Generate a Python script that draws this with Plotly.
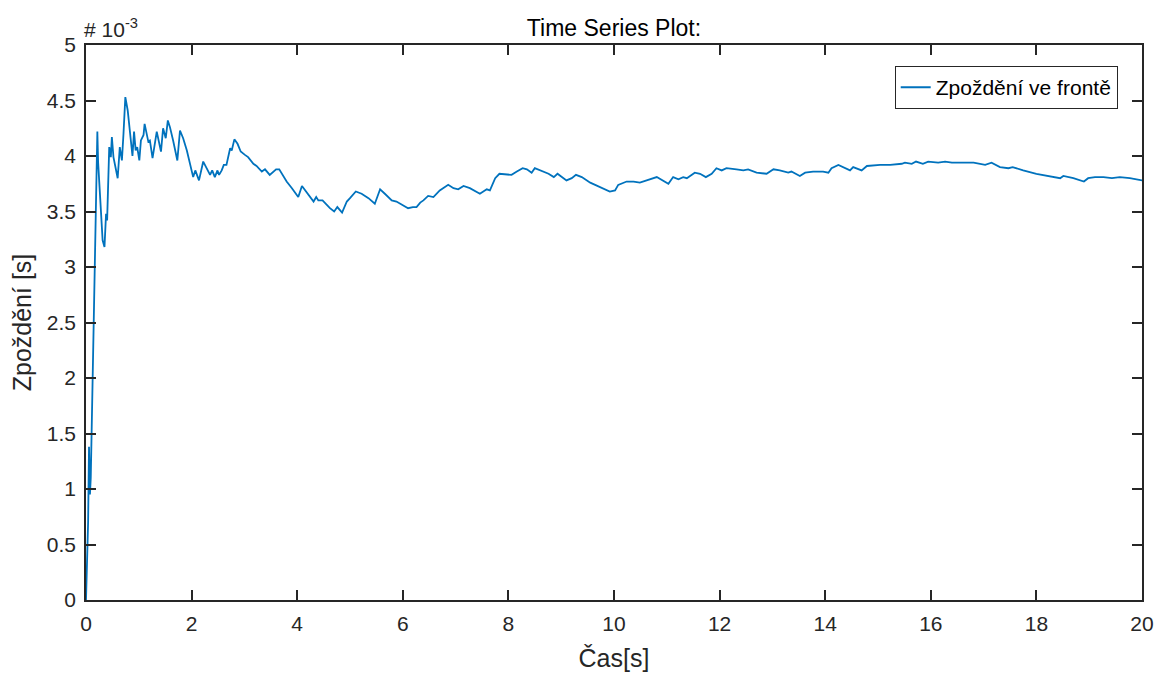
import plotly.graph_objects as go

# Time [s]
time_s = [0.0, 0.02, 0.04, 0.057, 0.075, 0.09, 0.11, 0.13, 0.15, 0.17, 0.215, 0.23, 0.30, 0.315, 0.35,
          0.38, 0.40, 0.44, 0.47, 0.49, 0.52, 0.60, 0.64, 0.68, 0.71, 0.745, 0.79, 0.88, 0.91, 0.94,
          0.97, 1.01, 1.04, 1.09, 1.11, 1.18, 1.21, 1.26, 1.34, 1.38, 1.42, 1.46, 1.51, 1.55, 1.59,
          1.65, 1.73, 1.78, 1.84, 1.91, 1.99, 2.03, 2.07, 2.14, 2.22, 2.29, 2.35, 2.39, 2.44, 2.49,
          2.52, 2.57, 2.61, 2.66, 2.73, 2.76, 2.81, 2.87, 2.93, 3.01, 3.07, 3.17, 3.23, 3.33, 3.39,
          3.48, 3.60, 3.66, 3.80, 3.90, 4.02, 4.09, 4.18, 4.31, 4.36, 4.40, 4.48, 4.62, 4.70, 4.76,
          4.85, 4.94, 5.00, 5.11, 5.22, 5.35, 5.47, 5.57, 5.66, 5.79, 5.88, 6.01, 6.10, 6.19, 6.26,
          6.33, 6.39, 6.48, 6.58, 6.70, 6.86, 6.96, 7.05, 7.15, 7.27, 7.46, 7.59, 7.65, 7.75, 7.83,
          7.97, 8.06, 8.16, 8.27, 8.35, 8.44, 8.50, 8.60, 8.76, 8.86, 8.93, 9.10, 9.20, 9.28, 9.39,
          9.55, 9.73, 9.92, 10.02, 10.08, 10.24, 10.37, 10.49, 10.62, 10.81, 11.03, 11.12, 11.22, 11.31,
          11.38, 11.53, 11.63, 11.74, 11.85, 11.94, 12.04, 12.13, 12.32, 12.45, 12.54, 12.70, 12.89, 13.02,
          13.14, 13.30, 13.36, 13.52, 13.62, 13.77, 13.96, 14.06, 14.12, 14.25, 14.47, 14.53, 14.69, 14.79,
          15.04, 15.23, 15.45, 15.51, 15.64, 15.72, 15.85, 15.95, 16.14, 16.27, 16.40, 16.62, 16.81, 17.03,
          17.15, 17.31, 17.47, 17.55, 17.75, 18.00, 18.26, 18.45, 18.51, 18.70, 18.90, 18.98, 19.11, 19.27,
          19.43, 19.58, 19.77, 20.0]

# Queue delay [x 1e-3 s]
delay_ms = [0.0, 0.35, 0.7, 1.38, 0.95, 1.1, 1.6, 2.0, 2.55, 3.13, 4.22, 3.94, 3.40, 3.24, 3.18,
            3.48, 3.42, 4.08, 3.99, 4.17, 3.99, 3.80, 4.08, 3.96, 4.20, 4.53, 4.41, 4.00, 4.22, 4.05,
            4.08, 3.96, 4.14, 4.19, 4.29, 4.13, 4.14, 3.98, 4.22, 4.13, 4.04, 4.25, 4.16, 4.32, 4.26,
            4.14, 3.96, 4.23, 4.16, 4.05, 3.87, 3.81, 3.87, 3.78, 3.95, 3.89, 3.83, 3.87, 3.81, 3.87,
            3.83, 3.87, 3.92, 3.92, 4.07, 4.05, 4.15, 4.11, 4.04, 4.01, 3.99, 3.93, 3.91, 3.86, 3.88,
            3.83, 3.88, 3.88, 3.77, 3.71, 3.63, 3.73, 3.67, 3.59, 3.63, 3.60, 3.60, 3.53, 3.50, 3.54,
            3.49, 3.59, 3.62, 3.68, 3.66, 3.62, 3.57, 3.70, 3.66, 3.60, 3.59, 3.55, 3.53, 3.54, 3.54,
            3.58, 3.60, 3.64, 3.63, 3.69, 3.74, 3.71, 3.70, 3.73, 3.71, 3.66, 3.70, 3.69, 3.80, 3.84,
            3.83, 3.83, 3.86, 3.89, 3.88, 3.85, 3.89, 3.87, 3.84, 3.81, 3.84, 3.78, 3.80, 3.83, 3.81,
            3.76, 3.72, 3.68, 3.69, 3.74, 3.77, 3.77, 3.76, 3.78, 3.81, 3.75, 3.81, 3.79, 3.81,
            3.80, 3.85, 3.84, 3.81, 3.84, 3.89, 3.87, 3.89, 3.88, 3.87, 3.88, 3.85, 3.84, 3.88,
            3.87, 3.85, 3.86, 3.82, 3.85, 3.86, 3.86, 3.85, 3.89, 3.92, 3.87, 3.90, 3.87, 3.91,
            3.92, 3.92, 3.93, 3.94, 3.93, 3.95, 3.93, 3.95, 3.94, 3.95, 3.94, 3.94, 3.94, 3.92,
            3.94, 3.90, 3.89, 3.90, 3.87, 3.84, 3.82, 3.80, 3.82, 3.80, 3.77, 3.80, 3.81, 3.81,
            3.80, 3.81, 3.80, 3.78]

x_ticks = [0, 2, 4, 6, 8, 10, 12, 14, 16, 18, 20]
y_ticks_ms = [0, 0.5, 1, 1.5, 2, 2.5, 3, 3.5, 4, 4.5, 5]
y_tick_labels = ["0", "0.5", "1", "1.5", "2", "2.5", "3", "3.5", "4", "4.5", "5"]

scale = 1e-3
delay_s = [v * scale for v in delay_ms]

FONT = "Liberation Sans, Arial, Helvetica, sans-serif"
AX = "#262626"

fig = go.Figure()
fig.add_trace(go.Scatter(
    x=time_s, y=delay_s, mode="lines", name="Zpoždění ve frontě",
    line=dict(color="#0072BD", width=1.8),
))

# page body has an 8 px margin, so margins are offset accordingly
fig.update_layout(
    width=1173, height=675,
    margin=dict(l=78, r=39, t=37, b=83, autoexpand=False),
    paper_bgcolor="white", plot_bgcolor="white",
    font=dict(family=FONT, color=AX, size=21),
    title=dict(text="Time Series Plot:", x=(614 - 8) / 1173, xanchor="center",
               y=1 - (28 - 8) / 675, yanchor="middle",
               font=dict(size=23, color="black", family=FONT)),
    showlegend=True,
    legend=dict(x=0.977, xanchor="right", y=0.962, yanchor="top",
                bordercolor=AX, borderwidth=1, bgcolor="white",
                font=dict(size=21, color="black", family=FONT)),
)

fig.update_xaxes(
    range=[0, 20], tickvals=x_ticks, ticktext=[str(t) for t in x_ticks],
    showline=True, linecolor=AX, linewidth=1.5, mirror="ticks",
    ticks="inside", ticklen=10, tickcolor=AX, tickwidth=1.5,
    showgrid=False, zeroline=False, ticklabelstandoff=4,
    tickfont=dict(size=21, color=AX),
    title=dict(text="Čas[s]", font=dict(size=25, color=AX), standoff=16),
)
fig.update_yaxes(
    range=[0, 5 * scale], tickvals=[v * scale for v in y_ticks_ms], ticktext=y_tick_labels,
    showline=True, linecolor=AX, linewidth=1.5, mirror="ticks",
    ticks="inside", ticklen=10, tickcolor=AX, tickwidth=1.5,
    showgrid=False, zeroline=False, ticklabelstandoff=4,
    tickfont=dict(size=21, color=AX),
    title=dict(text="Zpoždění [s]", font=dict(size=25, color=AX), standoff=8),
)

fig.add_annotation(
    xref="paper", yref="paper", x=0, y=1.0, xanchor="left", yanchor="bottom",
    text="# 10<sup>-3</sup>", showarrow=False, yshift=2, xshift=-4,
    font=dict(size=21, color=AX, family=FONT),
)

fig.write_html("out.html")
